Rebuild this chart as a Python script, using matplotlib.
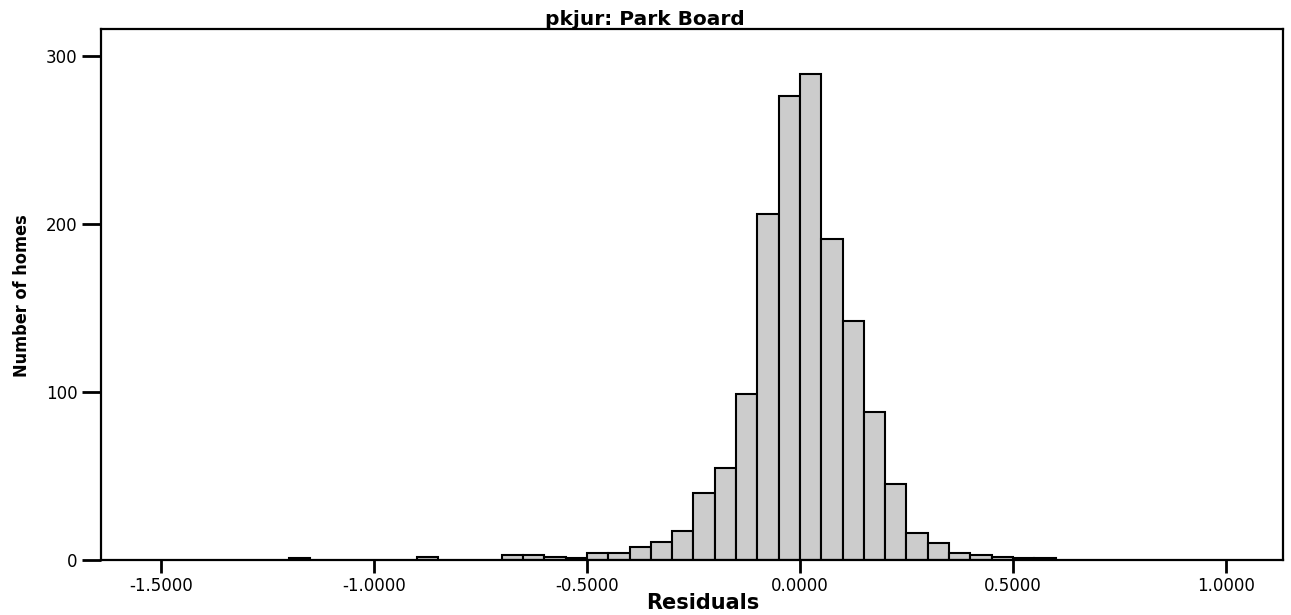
import matplotlib
matplotlib.use("Agg")
import matplotlib.pyplot as plt
from matplotlib import font_manager

# histogram of residuals, bin width 0.05 (left edges + counts)
bin_left = [-1.20, -0.90, -0.70, -0.65, -0.60, -0.55,
            -0.50, -0.45, -0.40, -0.35, -0.30, -0.25, -0.20, -0.15, -0.10, -0.05,
            0.00, 0.05, 0.10, 0.15, 0.20, 0.25, 0.30, 0.35, 0.40, 0.45, 0.50, 0.55]
counts = [1, 2, 3, 3, 2, 1,
          4, 4, 8, 11, 17, 40, 55, 99, 206, 276,
          289, 191, 142, 88, 45, 16, 10, 4, 3, 2, 1, 1]
bin_width = 0.05

x_ticks = [-1.5, -1.0, -0.5, 0.0, 0.5, 1.0]
y_ticks = [0, 100, 200, 300]

title = "pkjur: Park Board"
x_label = "Residuals"
y_label = "Number of homes"

# condensed font for the y label if we have one
names = {f.name for f in font_manager.fontManager.ttflist}
if "Liberation Sans Narrow" in names:
    narrow, narrow_size = "Liberation Sans Narrow", 16
else:
    narrow, narrow_size = "DejaVu Sans", 13

fig = plt.figure(figsize=(12.91, 6.15), dpi=100)
ax = fig.add_axes([0.0782, 0.0894, 0.9156, 0.8634])

ax.bar(bin_left, counts, width=bin_width, align="edge",
       color="#cccccc", edgecolor="black", linewidth=1.5)

ax.set_xlim(-1.641, 1.134)
ax.set_ylim(0, 316)
ax.set_xticks(x_ticks)
ax.set_xticklabels(["%.4f" % v for v in x_ticks])
ax.set_yticks(y_ticks)

for s in ax.spines.values():
    s.set_linewidth(1.6)
    s.set_color("black")

ax.tick_params(axis="x", direction="out", length=9, width=2, pad=3.5,
               labelsize=12)
ax.tick_params(axis="y", direction="out", length=14, width=2, pad=3,
               labelsize=12)
for lab in ax.get_xticklabels() + ax.get_yticklabels():
    lab.set_family("DejaVu Sans")

fig.text(0.4995, 0.9593, title, ha="center", va="baseline",
         fontsize=14.5, fontweight="bold", family="DejaVu Sans")
fig.text(0.5445, 0.0098, x_label, ha="center", va="baseline",
         fontsize=15, fontweight="bold", family="DejaVu Sans")
fig.text(22 / 1291, 1 - 296 / 615, y_label, ha="center", va="center",
         rotation=90, fontsize=narrow_size, fontweight="bold",
         fontstretch="condensed", family=narrow)

fig.savefig("out.png", dpi=100)
